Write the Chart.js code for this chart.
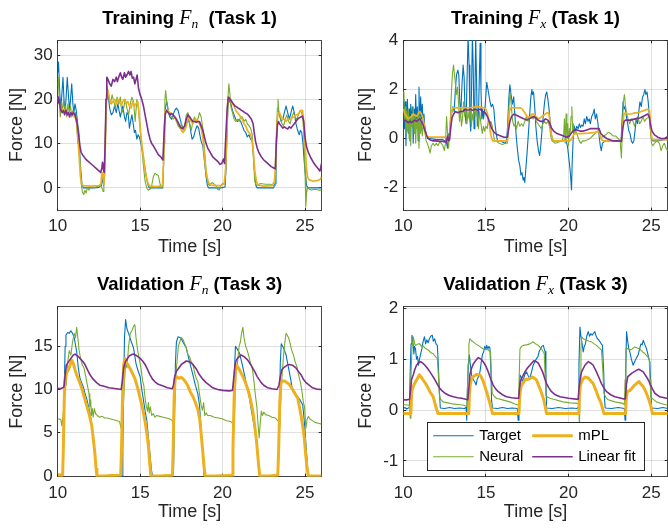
<!DOCTYPE html>
<html>
<head>
<meta charset="utf-8">
<script src="https://cdn.jsdelivr.net/npm/chart.js@4.4.1/dist/chart.umd.min.js"></script>
<style>
  html, body { margin: 0; padding: 0; background: #fff; }
  body { width: 668px; height: 529px; position: relative; overflow: hidden; font-family: "Liberation Sans", Arial, sans-serif; }
  .panel { position: absolute; }
  .panel canvas { position: absolute; left: 0; top: 0; }
  .title { position: absolute; top: 7px; font-weight: bold; font-size: 18.5px; line-height: 20px; text-align: center; color: #000; white-space: nowrap; }
  .title i { font-family: "Liberation Serif", "DejaVu Serif", serif; font-weight: normal; font-size: 20px; }
  .title sub { font-size: 13.5px; line-height: 0; vertical-align: -4px; }
</style>
</head>
<body>
<div class="panel" id="p1"><canvas id="c1" width="334" height="266"></canvas><div class="title">Training <i>F<sub>n</sub></i>&nbsp; (Task 1)</div></div>
<div class="panel" id="p2"><canvas id="c2" width="334" height="266"></canvas><div class="title">Training <i>F<sub>x</sub></i> (Task 1)</div></div>
<div class="panel" id="p3"><canvas id="c3" width="334" height="263"></canvas><div class="title">Validation <i>F<sub>n</sub></i> (Task 3)</div></div>
<div class="panel" id="p4"><canvas id="c4" width="334" height="263"></canvas><div class="title">Validation <i>F<sub>x</sub></i> (Task 3)</div></div>
<script>
// ---- tick labels ----
const timeTicks = [10, 15, 20, 25];
const trainFnTicks = [0, 10, 20, 30];
const trainFxTicks = [-2, 0, 2, 4];
const valFnTicks = [0, 5, 10, 15];
const valFxTicks = [-1, 0, 1, 2];
const legendLabels = ['Target', 'mPL', 'Neural', 'Linear fit'];

// ---- Training Fn (Task 1): [time s, force N] ----
const trainFnTarget = [[10.0,26],[10.05,28.4],[10.12,22],[10.18,17.5],[10.25,21],[10.32,25],[10.38,20],[10.45,17],[10.52,21],[10.58,25],[10.65,21],[10.72,17.5],[10.78,20],[10.85,23.5],[10.92,19],[10.98,17],[11.05,19],[11.12,17.5],[11.2,15],[11.27,12],[11.33,8],[11.4,4],[11.47,1],[11.55,0],[11.8,0],[12.2,0],[12.5,0.1],[12.65,0.5],[12.72,2.5],[12.78,0.5],[12.85,3],[12.9,12],[12.95,19],[13.0,21.5],[13.08,20.5],[13.15,18],[13.25,16.5],[13.35,17],[13.45,18.5],[13.55,17],[13.65,19],[13.72,17.5],[13.8,16],[13.88,17.5],[13.95,18.5],[14.05,16],[14.12,15],[14.2,17],[14.28,16.5],[14.35,13.5],[14.42,15],[14.5,16.5],[14.58,14.5],[14.65,12.5],[14.72,13],[14.8,11],[14.88,12],[14.95,11.5],[15.05,10],[15.15,8],[15.25,5.5],[15.35,3],[15.45,1],[15.55,0],[15.8,0],[16.1,0],[16.35,0],[16.42,5],[16.48,15],[16.55,18.5],[16.62,19.5],[16.7,17.5],[16.8,16],[16.9,15.5],[17.0,16.5],[17.1,17.5],[17.2,18],[17.3,17.5],[17.4,16],[17.5,14.5],[17.6,13.5],[17.7,13],[17.8,14.5],[17.9,15.5],[18.0,14.5],[18.08,12.5],[18.15,11],[18.25,11.5],[18.35,13],[18.45,14],[18.55,13.5],[18.62,12],[18.7,10.5],[18.8,9.5],[18.9,6],[19.0,2.5],[19.08,0.5],[19.15,0],[19.5,0],[19.9,0],[20.15,0.2],[20.22,5],[20.28,14],[20.33,18.5],[20.4,20],[20.5,19],[20.6,17.5],[20.7,16.5],[20.8,15.5],[20.9,15],[21.0,15.5],[21.1,15],[21.2,14],[21.3,13],[21.4,12.5],[21.5,11.5],[21.6,12],[21.7,11],[21.8,10.5],[21.88,7],[21.95,3],[22.02,0.5],[22.1,0],[22.6,0],[23.1,0],[23.18,1],[23.24,8],[23.3,15],[23.38,17.5],[23.45,16.5],[23.55,15],[23.65,15.5],[23.75,17],[23.85,18.5],[23.95,17],[24.05,15.5],[24.15,17],[24.25,18.5],[24.35,17],[24.45,14.5],[24.55,13],[24.65,12],[24.72,13],[24.8,12.5],[24.88,10],[24.95,6],[25.02,3],[25.1,0.5],[25.18,0],[25.6,0],[26,0]];
const trainFnNeural = [[10.0,23],[10.04,25],[10.1,19],[10.16,16],[10.22,19.5],[10.28,17],[10.35,20],[10.42,17.5],[10.48,18.5],[10.55,16],[10.62,19],[10.7,17],[10.78,18.5],[10.85,16],[10.92,17.5],[11.0,16],[11.08,17],[11.15,14],[11.22,10],[11.28,13],[11.35,6],[11.42,1],[11.5,-1],[11.58,-1.5],[11.65,-0.5],[11.72,-1.2],[11.8,0],[11.9,-0.5],[12.0,0.3],[12.2,0],[12.4,0.3],[12.6,0.5],[12.68,0],[12.75,-0.8],[12.8,1],[12.86,8],[12.92,18],[12.98,23],[13.05,22],[13.12,20],[13.2,19],[13.3,21],[13.4,19.5],[13.5,18],[13.6,20.5],[13.7,19],[13.8,20.5],[13.9,17],[14.0,18],[14.1,20],[14.2,18],[14.3,16.5],[14.4,19],[14.5,20.5],[14.6,19.5],[14.7,15],[14.8,20],[14.9,18],[15.0,13],[15.1,9],[15.2,5],[15.3,1.5],[15.4,0],[15.5,-0.5],[15.6,-0.3],[15.7,0.5],[15.8,2.5],[15.9,3.3],[16.0,3],[16.1,2.8],[16.2,1],[16.3,0],[16.38,0],[16.45,10],[16.5,20],[16.55,22],[16.62,19],[16.7,17.5],[16.8,16.5],[16.9,16],[17.0,15.5],[17.1,16],[17.2,15],[17.3,14],[17.4,13.5],[17.5,14.5],[17.6,13],[17.7,14],[17.8,16.5],[17.9,17],[18.0,14.5],[18.1,13],[18.2,15],[18.3,16],[18.4,15],[18.5,15.5],[18.6,17],[18.7,16],[18.8,13.5],[18.9,9],[19.0,4],[19.1,1],[19.2,0.5],[19.3,1],[19.4,1.2],[19.5,0.8],[19.6,0.5],[19.7,-0.3],[19.8,-0.5],[19.9,0.5],[20.0,1],[20.1,0.8],[20.18,3],[20.25,12],[20.32,20],[20.38,23.5],[20.45,21],[20.52,18],[20.6,17],[20.7,15.5],[20.8,15],[20.9,15.5],[21.0,15],[21.1,16],[21.2,16],[21.3,15],[21.4,15.5],[21.5,14.5],[21.6,14],[21.7,13.5],[21.8,12],[21.88,6],[21.95,1.5],[22.05,0.5],[22.3,1],[22.6,0.8],[22.9,0.8],[23.1,0.5],[23.2,0.5],[23.26,8],[23.32,18],[23.36,20],[23.42,17],[23.5,16],[23.6,14.5],[23.7,14],[23.8,15.5],[23.9,16.5],[24.0,15],[24.1,14.5],[24.2,16],[24.3,17],[24.4,16],[24.5,15.5],[24.6,16.5],[24.7,17.5],[24.8,17],[24.88,15],[24.95,10],[25.0,4],[25.05,-4.2],[25.1,-1],[25.15,0],[25.25,-0.3],[25.4,-0.5],[25.6,-0.3],[25.8,-0.5],[26,-0.5]];
const trainFnMpl = [[10.0,20.5],[10.1,19],[10.2,18],[10.35,17.5],[10.5,17.5],[10.65,17],[10.8,17],[10.95,16.5],[11.05,16],[11.15,15],[11.22,12],[11.3,7],[11.38,2.5],[11.45,1],[11.55,0.5],[12.0,0.4],[12.5,0.5],[12.62,0.8],[12.68,3.5],[12.74,3],[12.8,0.8],[12.86,5],[12.92,15],[12.98,21.5],[13.05,22],[13.15,20],[13.25,19],[13.35,19.5],[13.45,20],[13.55,19],[13.65,20],[13.75,19.5],[13.85,18.5],[13.95,19.5],[14.05,20],[14.15,19],[14.25,19.5],[14.35,18.5],[14.45,18],[14.55,19.5],[14.65,18.5],[14.75,19],[14.85,19.5],[14.93,17],[15.0,14],[15.1,10],[15.2,7],[15.3,4],[15.4,2],[15.5,0.8],[15.6,0.4],[16.0,0.3],[16.35,0.5],[16.42,6],[16.48,15],[16.55,17.5],[16.65,17.5],[16.8,17],[16.95,16.5],[17.1,16],[17.25,15],[17.4,14],[17.5,13],[17.6,12.5],[17.7,13],[17.8,14],[17.9,15.5],[18.0,16],[18.1,15],[18.2,14.5],[18.3,15.5],[18.4,15.5],[18.5,15],[18.6,14.5],[18.7,13.5],[18.8,11.5],[18.88,8],[18.95,5],[19.05,2.5],[19.15,1.2],[19.3,0.6],[19.6,0.5],[19.9,0.5],[20.1,1],[20.18,4],[20.25,12],[20.32,19],[20.4,20.5],[20.5,20],[20.6,19],[20.7,18.5],[20.8,17.5],[20.9,17],[21.0,16.5],[21.1,16],[21.2,15.5],[21.3,14.5],[21.4,14],[21.5,13],[21.6,12.5],[21.7,12],[21.8,10.5],[21.88,7.5],[21.95,4],[22.05,1.5],[22.15,0.6],[22.5,0.4],[23.0,0.5],[23.15,1.5],[23.22,6],[23.28,13],[23.35,17],[23.45,17],[23.55,16],[23.65,15.5],[23.75,15.5],[23.85,15],[23.95,15.5],[24.05,15.5],[24.15,15.5],[24.25,16],[24.35,16],[24.45,16.5],[24.55,16.5],[24.65,17],[24.75,17.5],[24.85,17.5],[24.92,15],[25.0,10],[25.08,5],[25.15,2.5],[25.25,1.8],[25.5,1.5],[25.8,1.7],[25.95,2],[26,2.5]];
const trainFnLinear = [[10.0,19],[10.05,20.5],[10.12,19],[10.2,17.5],[10.28,17],[10.35,17.5],[10.42,16.5],[10.5,17.5],[10.58,16.5],[10.65,17],[10.72,16],[10.8,17],[10.88,16.5],[10.95,17],[11.05,16.5],[11.12,15.5],[11.2,14],[11.27,12],[11.35,9.5],[11.42,8],[11.5,7.5],[11.6,7],[11.7,6.5],[11.85,6],[12.0,5.5],[12.15,5],[12.3,4.5],[12.45,4],[12.6,3.5],[12.68,4.5],[12.72,5.8],[12.78,4],[12.82,3.5],[12.88,10],[12.93,20],[12.98,25],[13.05,24.5],[13.15,23.5],[13.25,23],[13.35,24.5],[13.45,24],[13.55,25],[13.62,24],[13.7,25],[13.8,26],[13.88,25],[13.95,24.5],[14.05,26],[14.12,25],[14.2,25.5],[14.3,26.3],[14.38,25.5],[14.45,26.3],[14.52,24.8],[14.6,25],[14.68,23.5],[14.75,24.5],[14.82,25.5],[14.9,22.5],[15.0,21],[15.1,20],[15.2,18.5],[15.3,16.5],[15.4,14.5],[15.5,12.5],[15.6,11],[15.7,10],[15.8,9.5],[15.95,8.5],[16.1,7.5],[16.25,7],[16.38,6.3],[16.45,12],[16.52,16.5],[16.6,17.5],[16.7,17],[16.8,16.5],[16.9,16.8],[17.0,16.5],[17.1,16],[17.2,15.5],[17.3,14.8],[17.4,14],[17.5,13.5],[17.6,13.5],[17.7,14],[17.8,15.5],[17.9,16.5],[18.0,16],[18.1,15.5],[18.2,15],[18.3,15],[18.4,14.8],[18.5,15],[18.6,15],[18.7,14],[18.8,13],[18.9,11.5],[19.0,10],[19.1,9],[19.25,8],[19.4,7],[19.55,6.5],[19.7,6],[19.85,5.3],[19.95,5.5],[20.05,6.5],[20.12,5.5],[20.2,12],[20.28,18],[20.35,20.5],[20.45,20],[20.55,19.5],[20.65,19],[20.75,18.5],[20.85,18.3],[20.95,18],[21.05,17.8],[21.15,17.5],[21.25,17.3],[21.35,17],[21.45,16.8],[21.55,16.5],[21.65,16],[21.75,15.5],[21.85,14.5],[21.92,12.5],[22.0,10.5],[22.1,9],[22.2,8],[22.35,7],[22.5,6.3],[22.65,5.8],[22.8,5.3],[22.95,4.8],[23.1,4.5],[23.2,4.3],[23.26,10],[23.32,14],[23.38,15],[23.45,14.5],[23.55,14],[23.65,13.5],[23.75,13.8],[23.85,13.5],[23.95,13.3],[24.05,13.8],[24.15,13.5],[24.25,14],[24.35,14.5],[24.45,15],[24.55,15.5],[24.65,15.8],[24.75,16],[24.85,16.2],[24.92,15],[25.0,11.5],[25.08,9.5],[25.2,8],[25.35,6.8],[25.5,5.8],[25.65,5],[25.8,4.3],[25.9,3.8],[25.95,4.5],[26,5.5]];

// ---- Training Fx (Task 1) ----
const trainFxTarget = [[10.0,1.0],[10.04,1.6],[10.08,0.4],[10.12,1.5],[10.16,-0.3],[10.2,1.0],[10.25,1.6],[10.3,0.2],[10.35,1.2],[10.4,-0.1],[10.45,1.4],[10.5,0.5],[10.55,1.3],[10.6,-0.2],[10.65,1.2],[10.7,0.3],[10.75,1.8],[10.8,0.6],[10.85,1.3],[10.9,-0.1],[10.95,2.1],[11.0,0.4],[11.05,1.7],[11.1,0.8],[11.15,1.4],[11.2,0.6],[11.25,1.0],[11.3,0.5],[11.38,0.2],[11.45,0.0],[11.6,0.0],[12.0,-0.05],[12.4,-0.05],[12.55,-0.1],[12.62,-0.2],[12.68,-0.4],[12.72,0.2],[12.78,0.0],[12.85,0.4],[12.92,1.0],[13.0,1.3],[13.08,1.1],[13.15,2.0],[13.22,2.6],[13.3,2.8],[13.36,2.6],[13.42,1.5],[13.48,1.0],[13.55,2.2],[13.62,3.0],[13.68,2.5],[13.74,1.0],[13.8,0.6],[13.86,2.5],[13.92,4.2],[13.98,3.0],[14.03,0.8],[14.08,0.3],[14.13,2.0],[14.18,4.2],[14.23,3.0],[14.28,0.4],[14.33,1.5],[14.38,4.2],[14.43,2.5],[14.48,0.5],[14.55,1.0],[14.6,2.5],[14.65,3.9],[14.7,2.0],[14.75,0.8],[14.8,1.2],[14.85,0.8],[14.95,1.3],[15.05,2.3],[15.15,1.9],[15.25,1.5],[15.32,1.3],[15.4,1.4],[15.48,1.2],[15.55,0.6],[15.62,0.2],[15.7,-0.1],[15.85,-0.1],[16.0,-0.15],[16.15,-0.2],[16.25,-0.1],[16.32,0.6],[16.38,1.6],[16.45,2.2],[16.52,1.8],[16.6,1.4],[16.68,1.7],[16.75,1.0],[16.82,0.2],[16.9,-0.4],[16.98,-0.9],[17.05,-1.1],[17.12,-1.5],[17.18,-1.4],[17.25,-1.7],[17.3,-1.6],[17.35,-1.8],[17.42,-1.2],[17.5,-0.5],[17.58,0.3],[17.65,1.0],[17.72,1.7],[17.78,2.0],[17.82,1.8],[17.88,1.9],[17.95,1.3],[18.02,0.5],[18.1,-0.1],[18.18,-0.5],[18.25,-0.7],[18.32,-0.3],[18.4,0.4],[18.48,1.0],[18.55,1.5],[18.62,1.8],[18.68,1.9],[18.75,1.6],[18.82,1.2],[18.9,0.6],[18.98,0.1],[19.05,-0.1],[19.3,-0.1],[19.6,-0.1],[19.85,-0.05],[19.95,-0.4],[20.05,-1.0],[20.12,-1.5],[20.18,-2.1],[20.22,-1.0],[20.28,0.0],[20.35,0.5],[20.42,0.3],[20.5,0.5],[20.58,0.4],[20.65,0.6],[20.72,0.45],[20.8,0.55],[20.88,0.5],[20.95,0.8],[21.02,0.6],[21.1,0.9],[21.18,0.7],[21.25,0.8],[21.32,0.6],[21.4,0.9],[21.48,1.0],[21.55,1.2],[21.62,0.8],[21.7,1.0],[21.78,0.6],[21.85,0.1],[21.92,-0.3],[21.98,-0.5],[22.05,-0.2],[22.2,-0.1],[22.6,-0.1],[23.0,-0.1],[23.18,-0.1],[23.24,0.8],[23.3,1.5],[23.36,1.2],[23.42,1.3],[23.5,0.9],[23.58,0.6],[23.65,0.3],[23.72,0.2],[23.8,-0.1],[23.88,-0.2],[23.95,-0.1],[24.02,0.3],[24.1,0.8],[24.18,0.6],[24.25,1.1],[24.32,1.5],[24.4,1.3],[24.48,1.7],[24.55,1.8],[24.62,2.0],[24.68,1.8],[24.75,1.9],[24.82,1.5],[24.88,1.0],[24.95,0.4],[25.02,0.0],[25.1,-0.1],[25.4,-0.1],[25.8,-0.05],[26,-0.05]];
const trainFxNeural = [[10.0,1.9],[10.04,1.2],[10.08,0.8],[10.12,1.3],[10.16,0.2],[10.2,1.1],[10.25,0.3],[10.3,1.2],[10.35,0.0],[10.4,0.9],[10.45,-0.3],[10.5,1.0],[10.55,0.5],[10.6,1.3],[10.65,0.2],[10.7,1.0],[10.75,-0.2],[10.8,0.8],[10.85,0.4],[10.9,1.1],[10.95,-0.4],[11.0,0.9],[11.05,0.2],[11.1,0.7],[11.15,0.1],[11.22,0.6],[11.3,0.3],[11.38,-0.1],[11.45,-0.2],[11.55,-0.4],[11.62,-0.6],[11.7,-0.3],[11.8,-0.2],[11.9,-0.3],[12.0,-0.2],[12.1,-0.3],[12.2,-0.15],[12.3,-0.2],[12.4,-0.3],[12.48,-0.5],[12.55,-0.2],[12.62,0.9],[12.68,0.2],[12.74,-0.4],[12.8,0.3],[12.86,1.0],[12.92,2.0],[12.98,2.7],[13.04,3.0],[13.1,2.6],[13.16,2.2],[13.22,1.8],[13.28,2.1],[13.34,1.5],[13.4,0.7],[13.46,1.2],[13.52,0.5],[13.58,0.8],[13.65,1.5],[13.72,0.9],[13.78,1.3],[13.85,0.6],[13.92,1.1],[13.98,0.8],[14.05,1.2],[14.12,0.5],[14.18,1.0],[14.25,0.7],[14.32,1.3],[14.4,0.9],[14.48,1.2],[14.55,0.4],[14.62,1.1],[14.7,0.6],[14.78,0.2],[14.85,0.5],[14.92,0.3],[15.0,0.5],[15.08,0.4],[15.15,0.8],[15.22,0.6],[15.3,0.7],[15.38,0.5],[15.45,0.2],[15.52,-0.1],[15.6,-0.1],[15.8,-0.2],[16.0,-0.25],[16.2,-0.2],[16.3,-0.2],[16.36,0.8],[16.42,1.6],[16.48,1.8],[16.55,1.2],[16.62,0.7],[16.7,0.5],[16.78,0.6],[16.85,0.4],[16.95,0.7],[17.05,0.5],[17.15,0.6],[17.25,0.5],[17.35,0.7],[17.45,0.9],[17.55,0.7],[17.65,0.8],[17.75,1.0],[17.85,0.8],[17.95,0.9],[18.05,0.7],[18.15,0.6],[18.25,0.5],[18.35,0.4],[18.45,0.6],[18.55,0.7],[18.65,0.6],[18.75,0.7],[18.85,0.5],[18.92,0.1],[19.0,-0.1],[19.2,-0.2],[19.4,-0.15],[19.6,-0.1],[19.7,0.1],[19.75,0.8],[19.8,-0.2],[19.85,1.0],[19.9,0.0],[19.95,0.6],[20.0,-0.3],[20.05,0.4],[20.1,0.2],[20.15,0.9],[20.2,1.3],[20.25,0.3],[20.3,0.6],[20.35,0.2],[20.45,0.3],[20.55,0.1],[20.65,-0.1],[20.75,-0.2],[20.85,-0.1],[21.0,-0.1],[21.15,-0.05],[21.3,0.0],[21.45,0.1],[21.6,0.2],[21.75,0.3],[21.85,0.2],[21.95,0.0],[22.1,0.1],[22.25,0.15],[22.4,0.25],[22.55,0.2],[22.7,0.1],[22.85,0.1],[23.0,0.0],[23.12,-0.1],[23.2,-0.8],[23.26,0.5],[23.32,1.5],[23.38,1.8],[23.45,1.3],[23.52,1.0],[23.6,0.8],[23.7,0.6],[23.8,0.8],[23.9,0.7],[24.0,0.5],[24.1,0.8],[24.2,0.9],[24.3,0.6],[24.4,0.7],[24.5,0.9],[24.6,0.7],[24.7,0.8],[24.8,0.85],[24.9,0.9],[24.96,0.3],[25.02,-0.2],[25.1,-0.3],[25.2,-0.2],[25.35,-0.1],[25.5,-0.2],[25.6,-0.5],[25.7,-0.3],[25.8,-0.2],[25.9,-0.4],[26,-0.5]];
const trainFxMpl = [[10.0,1.2],[10.1,1.0],[10.2,0.9],[10.3,0.8],[10.4,0.85],[10.5,0.9],[10.6,1.0],[10.7,0.95],[10.8,0.9],[10.9,1.0],[11.0,1.1],[11.1,1.0],[11.2,0.8],[11.28,0.5],[11.35,0.2],[11.42,0.05],[11.6,0.05],[12.0,0.05],[12.5,0.05],[12.65,0.0],[12.72,-0.1],[12.8,0.1],[12.86,0.6],[12.92,1.1],[13.0,1.25],[13.5,1.25],[14.0,1.25],[14.5,1.3],[14.9,1.25],[15.0,1.2],[15.1,1.0],[15.2,0.6],[15.28,0.2],[15.35,0.0],[15.42,-0.1],[15.8,-0.1],[16.3,-0.1],[16.36,0.5],[16.42,1.1],[16.5,1.25],[16.8,1.25],[17.1,1.25],[17.2,1.2],[17.3,1.1],[17.4,1.0],[17.5,0.9],[17.6,0.85],[17.7,0.9],[17.8,1.0],[17.9,1.0],[18.0,0.9],[18.1,0.85],[18.2,0.8],[18.3,0.85],[18.4,0.9],[18.5,0.95],[18.6,1.0],[18.7,1.05],[18.8,1.05],[18.88,0.7],[18.95,0.2],[19.02,0.0],[19.1,-0.1],[19.6,-0.1],[20.1,-0.1],[20.2,0.0],[20.3,0.15],[20.4,0.2],[20.8,0.2],[21.2,0.22],[21.6,0.25],[21.85,0.3],[21.92,0.1],[22.0,-0.05],[22.1,-0.1],[22.6,-0.1],[23.2,-0.1],[23.28,0.5],[23.35,1.0],[23.45,1.05],[23.6,1.0],[23.8,1.0],[24.0,1.05],[24.2,1.05],[24.4,1.1],[24.6,1.15],[24.8,1.2],[24.9,1.15],[24.96,0.6],[25.02,0.1],[25.08,-0.05],[25.5,-0.05],[26,-0.05]];
const trainFxLinear = [[10.0,0.7],[10.1,0.75],[10.2,0.7],[10.3,0.65],[10.4,0.7],[10.5,0.65],[10.6,0.7],[10.7,0.75],[10.8,0.7],[10.9,0.75],[11.0,0.8],[11.1,0.7],[11.2,0.55],[11.3,0.35],[11.4,0.15],[11.5,0.0],[11.6,-0.05],[11.8,-0.1],[12.0,-0.1],[12.2,-0.12],[12.4,-0.12],[12.6,-0.15],[12.68,0.1],[12.74,-0.1],[12.8,-0.05],[12.88,0.5],[12.95,0.85],[13.05,1.0],[13.15,1.1],[13.3,1.05],[13.45,1.1],[13.6,1.1],[13.75,1.2],[13.9,1.15],[14.05,1.2],[14.2,1.15],[14.35,1.2],[14.5,1.15],[14.65,1.2],[14.8,1.1],[14.95,1.05],[15.05,0.95],[15.15,0.8],[15.25,0.6],[15.35,0.4],[15.5,0.25],[15.7,0.15],[15.9,0.1],[16.1,0.05],[16.3,0.05],[16.38,0.4],[16.45,0.7],[16.55,0.9],[16.7,1.0],[16.85,0.95],[17.0,0.9],[17.15,0.85],[17.3,0.8],[17.45,0.75],[17.6,0.8],[17.75,0.85],[17.9,0.9],[18.0,0.85],[18.15,0.75],[18.3,0.7],[18.45,0.7],[18.6,0.8],[18.75,0.75],[18.85,0.65],[18.95,0.45],[19.1,0.3],[19.3,0.2],[19.5,0.15],[19.7,0.1],[19.9,0.05],[20.05,0.1],[20.2,0.25],[20.35,0.35],[20.5,0.35],[20.7,0.3],[20.9,0.3],[21.1,0.35],[21.3,0.4],[21.5,0.4],[21.7,0.4],[21.85,0.4],[21.95,0.2],[22.1,0.1],[22.3,0.0],[22.5,-0.05],[22.7,-0.1],[22.9,-0.1],[23.1,-0.1],[23.2,-0.12],[23.28,0.4],[23.36,0.7],[23.45,0.75],[23.6,0.75],[23.75,0.75],[23.9,0.78],[24.05,0.8],[24.2,0.82],[24.35,0.85],[24.5,0.9],[24.65,0.95],[24.8,1.0],[24.88,0.9],[24.96,0.55],[25.05,0.3],[25.2,0.15],[25.4,0.05],[25.6,0.0],[25.8,0.0],[25.95,0.05],[26,0.1]];

// ---- Validation Fn (Task 3) ----
const valFnTarget = [[10.0,0.2],[10.3,0.2],[10.35,3],[10.4,10],[10.45,15],[10.5,16.3],[10.6,16.6],[10.7,16.5],[10.8,16.8],[10.9,16.5],[11.0,16],[11.15,14.4],[11.25,12.5],[11.35,11.3],[11.45,10.8],[11.55,10.3],[11.65,9.6],[11.75,9],[11.85,8.2],[11.96,7.3],[12.06,6],[12.16,4.4],[12.26,2.8],[12.32,1],[12.38,0],[12.8,0],[13.4,0],[13.9,0],[13.95,3],[14.0,10],[14.05,16],[14.12,18.1],[14.2,17],[14.3,16.5],[14.45,15.6],[14.6,14.8],[14.75,13],[14.9,12],[15.0,11.5],[15.1,10],[15.2,8.8],[15.3,7.5],[15.4,6.5],[15.5,4.5],[15.6,2.5],[15.68,0.8],[15.75,0],[16.2,0],[16.8,0],[17.02,0.2],[17.08,6],[17.14,13],[17.2,15.5],[17.3,16.1],[17.45,16],[17.6,15.5],[17.8,14.8],[18.0,13.2],[18.2,11.7],[18.35,10.5],[18.5,9.5],[18.6,8.2],[18.7,5.5],[18.8,2.5],[18.88,0],[19.5,0],[20.2,0],[20.6,0.1],[20.66,6],[20.72,12],[20.78,15],[20.88,14.7],[21.03,14.2],[21.18,13],[21.33,11.7],[21.48,10.3],[21.63,9],[21.73,7.8],[21.83,6.7],[21.93,5.6],[22.03,4.4],[22.13,2.2],[22.24,0],[22.8,0],[23.38,0.1],[23.44,6],[23.5,13],[23.56,15.3],[23.7,14.8],[23.85,14],[24.0,12.5],[24.15,11],[24.25,9.8],[24.4,9.5],[24.55,9.2],[24.7,8.8],[24.86,8.2],[24.95,6.5],[25.06,3.6],[25.15,1.2],[25.2,0],[25.6,0],[26,0]];
const valFnNeural = [[10.0,6.6],[10.1,6.6],[10.2,6.5],[10.25,5.8],[10.3,6.5],[10.38,8],[10.45,11],[10.52,10.5],[10.6,13],[10.7,14.5],[10.8,14],[10.9,15.5],[11.0,16.5],[11.08,16],[11.15,17.2],[11.22,16],[11.3,14.5],[11.4,13.5],[11.5,12.8],[11.6,12.5],[11.7,11.5],[11.8,10.5],[11.9,9.5],[11.95,8],[12.0,8.8],[12.05,7],[12.1,7.8],[12.15,6.8],[12.22,7.8],[12.3,7.2],[12.4,7],[12.55,6.8],[12.7,6.9],[12.85,6.7],[13.0,6.7],[13.2,6.6],[13.4,6.5],[13.6,6.4],[13.75,6.3],[13.85,5.5],[13.92,9],[13.98,8],[14.05,11],[14.12,13],[14.2,12.5],[14.3,15],[14.4,16.5],[14.5,16.8],[14.6,17.3],[14.68,17.5],[14.75,16],[14.85,14.5],[14.95,13.5],[15.05,12.5],[15.15,11],[15.22,10.5],[15.3,9],[15.38,8],[15.45,7.5],[15.5,8.5],[15.55,7.3],[15.62,8],[15.7,7],[15.8,7.2],[15.9,6.8],[16.0,7],[16.2,6.9],[16.4,6.8],[16.6,6.7],[16.8,6.6],[16.95,6.4],[17.05,5.8],[17.1,9],[17.18,12],[17.25,13.5],[17.32,15],[17.4,15.5],[17.5,16],[17.6,15.8],[17.7,15.3],[17.8,14.8],[17.9,14],[18.0,13.8],[18.1,13.2],[18.2,12.9],[18.3,12],[18.4,11.3],[18.5,10.9],[18.6,9.5],[18.7,8.2],[18.78,7.6],[18.85,8.5],[18.92,7],[19.0,7.3],[19.1,7],[19.25,7],[19.5,6.8],[19.75,6.7],[20.0,6.6],[20.25,6.4],[20.5,6.3],[20.65,6.0],[20.7,5.5],[20.76,9.5],[20.82,12],[20.9,13],[21.0,15],[21.08,15.5],[21.15,16.5],[21.23,17.2],[21.3,16],[21.4,15],[21.5,14.5],[21.6,13.8],[21.7,13],[21.8,12.5],[21.9,11],[22.0,9.2],[22.08,8],[22.15,6],[22.22,4.4],[22.28,6],[22.35,7.5],[22.42,7],[22.5,7.4],[22.6,7.1],[22.8,7],[23.0,6.8],[23.2,6.7],[23.4,6.3],[23.48,5.6],[23.55,10],[23.62,12],[23.7,14],[23.78,15.5],[23.85,16.5],[23.92,16.3],[24.0,16],[24.1,15.3],[24.2,14.5],[24.3,14],[24.4,13.2],[24.5,12.7],[24.6,11.8],[24.7,11],[24.8,10],[24.9,8.5],[24.97,8],[25.05,5.5],[25.12,6.5],[25.2,6.9],[25.3,6.6],[25.45,6.4],[25.6,6.2],[25.8,6.1],[26,6.0]];
const valFnMpl = [[10.0,0.1],[10.3,0.1],[10.34,3],[10.4,9],[10.46,11.5],[10.55,12],[10.65,12.3],[10.75,12.8],[10.85,13.4],[10.95,13],[11.05,12.3],[11.15,11.7],[11.3,11],[11.45,10.2],[11.6,9.2],[11.75,8.2],[11.9,7.2],[12.06,5.9],[12.16,4.3],[12.26,2.5],[12.33,0.8],[12.38,0],[12.8,0],[13.3,0.05],[13.82,0.1],[13.87,3],[13.93,9],[14.0,12.8],[14.07,13.6],[14.15,13.2],[14.25,12.9],[14.37,12.5],[14.5,12],[14.68,11.3],[14.85,10.2],[15.0,9],[15.15,7.8],[15.3,6.3],[15.42,4.8],[15.5,3.5],[15.58,1.5],[15.65,0],[16.2,0],[16.96,0.1],[17.0,3],[17.06,9],[17.12,11.3],[17.2,11.5],[17.35,11.3],[17.5,11.4],[17.62,11.2],[17.75,10.9],[17.9,10.4],[18.05,9.7],[18.2,9.2],[18.35,8.5],[18.5,7.7],[18.62,6.5],[18.72,4.5],[18.8,2.8],[18.88,1],[18.95,0],[19.6,0],[20.2,0.05],[20.58,0.1],[20.63,3],[20.7,9],[20.77,12],[20.85,12.8],[20.95,12.5],[21.05,12.2],[21.2,11.6],[21.35,11],[21.5,10.2],[21.63,9.4],[21.75,8.3],[21.85,7.3],[21.95,5.8],[22.05,4.2],[22.13,2.5],[22.2,1],[22.26,0],[22.8,0],[23.35,0.1],[23.4,3],[23.47,8.5],[23.53,10.6],[23.6,11],[23.75,11],[23.9,10.8],[24.05,10.6],[24.25,10],[24.4,9.5],[24.56,9],[24.66,8],[24.76,7],[24.86,5.8],[24.96,4.3],[25.04,2.5],[25.12,1],[25.2,0],[25.6,0],[26,0]];
const valFnLinear = [[10.0,10.1],[10.2,10.1],[10.38,10.3],[10.44,11.5],[10.52,12.8],[10.65,13.2],[10.8,13.6],[10.95,14],[11.05,14.1],[11.2,13.9],[11.35,13.6],[11.5,13.3],[11.65,12.9],[11.8,12.3],[11.96,11.7],[12.15,11.2],[12.36,10.8],[12.55,10.5],[12.76,10.4],[13.1,10.2],[13.57,10.1],[13.85,10.0],[13.92,11],[14.0,12.5],[14.1,13.2],[14.2,13.5],[14.35,13.9],[14.58,14.1],[14.8,13.9],[15.0,13.6],[15.15,13.3],[15.3,12.9],[15.45,12.3],[15.6,11.7],[15.75,11.2],[15.9,10.9],[16.1,10.6],[16.4,10.4],[16.65,10.2],[16.95,10.1],[17.02,10.5],[17.1,11.5],[17.2,12.1],[17.35,12.5],[17.5,12.9],[17.65,13.1],[17.8,13.3],[18.0,13.2],[18.2,12.9],[18.4,12.4],[18.6,11.7],[18.8,11.2],[19.0,10.8],[19.2,10.5],[19.4,10.2],[19.7,10.0],[20.0,9.9],[20.4,9.85],[20.6,9.9],[20.66,11],[20.75,12.8],[20.83,13.4],[20.95,13.7],[21.13,14],[21.3,13.8],[21.53,13.4],[21.7,12.9],[21.94,12.1],[22.1,11.5],[22.34,10.8],[22.5,10.5],[22.74,10.2],[23.0,10.1],[23.3,10.0],[23.42,10.5],[23.5,11.5],[23.6,12.3],[23.75,12.6],[23.9,12.8],[24.05,12.9],[24.25,12.8],[24.45,12.5],[24.6,12.1],[24.76,11.7],[24.9,11.2],[25.06,10.8],[25.25,10.5],[25.46,10.2],[25.7,10.05],[26,10.0]];

// ---- Validation Fx (Task 3) ----
const valFxTarget = [[10.0,0.03],[10.1,0.05],[10.2,0.02],[10.3,0.04],[10.37,0.05],[10.42,0.8],[10.47,1.3],[10.52,1.47],[10.58,1.35],[10.64,1.1],[10.68,1.25],[10.74,1.2],[10.8,1.0],[10.86,1.05],[10.92,0.88],[10.98,1.0],[11.05,1.1],[11.12,1.2],[11.2,1.35],[11.28,1.44],[11.35,1.3],[11.42,1.38],[11.5,1.32],[11.58,1.4],[11.66,1.45],[11.75,1.47],[11.82,1.35],[11.9,1.4],[11.98,1.3],[12.06,1.27],[12.12,0.9],[12.18,0.4],[12.24,0.04],[12.5,0.03],[12.8,0.05],[13.1,0.03],[13.4,0.04],[13.7,0.03],[13.8,0.05],[13.84,-0.2],[13.88,0.4],[13.94,0.9],[14.0,1.08],[14.07,0.85],[14.13,0.69],[14.2,0.62],[14.27,0.58],[14.33,0.55],[14.4,0.49],[14.47,0.6],[14.55,0.66],[14.64,0.75],[14.72,0.95],[14.8,1.1],[14.86,1.14],[14.93,1.25],[15.0,1.2],[15.05,1.27],[15.12,1.2],[15.18,1.25],[15.24,1.22],[15.3,0.8],[15.34,0.2],[15.4,0.04],[15.7,0.03],[16.0,0.05],[16.3,0.03],[16.6,0.04],[16.9,0.03],[16.95,-0.2],[17.0,0.2],[17.06,0.69],[17.13,0.65],[17.2,0.56],[17.28,0.62],[17.36,0.7],[17.46,0.75],[17.55,0.68],[17.66,0.62],[17.76,0.75],[17.86,0.88],[17.96,0.95],[18.06,1.01],[18.15,1.05],[18.22,1.15],[18.3,1.2],[18.38,1.25],[18.47,1.27],[18.53,1.2],[18.58,1.15],[18.63,0.6],[18.67,0.04],[19.0,0.03],[19.4,0.05],[19.8,0.03],[20.2,0.04],[20.5,0.03],[20.58,0.05],[20.63,0.9],[20.69,1.63],[20.75,1.45],[20.82,1.3],[20.89,1.14],[20.95,1.25],[21.02,1.3],[21.1,1.45],[21.19,1.54],[21.27,1.45],[21.35,1.5],[21.43,1.47],[21.5,1.5],[21.59,1.54],[21.67,1.45],[21.75,1.4],[21.82,1.38],[21.9,1.34],[21.98,1.3],[22.05,1.27],[22.12,0.8],[22.18,0.2],[22.22,0.04],[22.6,0.03],[23.0,0.05],[23.38,0.03],[23.42,-0.2],[23.46,0.8],[23.51,1.54],[23.58,1.35],[23.65,1.2],[23.71,1.14],[23.8,1.0],[23.91,0.88],[24.0,0.95],[24.1,1.02],[24.21,1.08],[24.3,1.2],[24.38,1.3],[24.45,1.28],[24.52,1.37],[24.6,1.3],[24.66,1.25],[24.72,1.2],[24.8,1.1],[24.86,1.0],[24.92,0.95],[24.97,0.5],[25.02,0.04],[25.4,0.03],[25.7,0.05],[26,0.03]];
const valFxNeural = [[10.0,0.11],[10.2,0.1],[10.38,0.09],[10.42,-0.16],[10.46,0.6],[10.52,1.2],[10.6,1.44],[10.66,1.35],[10.72,1.27],[10.8,1.28],[10.9,1.3],[11.0,1.3],[11.1,1.25],[11.2,1.26],[11.3,1.22],[11.4,1.2],[11.5,1.18],[11.6,1.15],[11.7,1.12],[11.8,1.11],[11.92,1.06],[12.06,1.01],[12.12,0.7],[12.18,0.3],[12.25,0.22],[12.4,0.16],[12.7,0.14],[13.0,0.12],[13.3,0.11],[13.6,0.1],[13.85,0.07],[13.92,0.9],[13.97,1.3],[14.03,1.4],[14.13,1.36],[14.23,1.34],[14.38,1.3],[14.54,1.27],[14.7,1.23],[14.84,1.2],[15.0,1.19],[15.14,1.18],[15.28,1.14],[15.33,0.7],[15.38,0.33],[15.5,0.27],[15.65,0.23],[16.0,0.2],[16.45,0.16],[16.75,0.12],[16.96,0.1],[17.0,0.5],[17.06,1.2],[17.15,1.25],[17.26,1.27],[17.45,1.28],[17.66,1.3],[17.86,1.34],[18.0,1.3],[18.17,1.27],[18.37,1.2],[18.53,1.11],[18.58,0.7],[18.63,0.29],[18.75,0.25],[18.87,0.23],[19.2,0.2],[19.68,0.16],[20.1,0.14],[20.55,0.13],[20.62,0.1],[20.66,-0.36],[20.7,0.6],[20.75,1.2],[20.79,1.44],[20.9,1.4],[21.08,1.37],[21.25,1.35],[21.39,1.34],[21.55,1.3],[21.69,1.27],[21.85,1.22],[21.99,1.18],[22.07,0.8],[22.14,0.33],[22.25,0.25],[22.4,0.2],[22.8,0.16],[23.3,0.13],[23.38,0.1],[23.42,0.6],[23.47,1.2],[23.55,1.21],[23.71,1.18],[23.85,1.2],[24.01,1.24],[24.15,1.22],[24.31,1.2],[24.45,1.15],[24.62,1.11],[24.75,1.06],[24.88,1.01],[24.93,0.6],[24.98,0.26],[25.1,0.22],[25.32,0.16],[25.6,0.13],[25.93,0.1],[26,0.1]];
const valFxMpl = [[10.0,-0.07],[10.46,-0.07],[10.5,0.3],[10.55,0.42],[10.65,0.5],[10.8,0.59],[10.97,0.69],[11.1,0.64],[11.2,0.59],[11.41,0.49],[11.61,0.36],[11.81,0.26],[11.9,0.15],[12.0,0.03],[12.1,-0.07],[13.0,-0.07],[13.96,-0.07],[14.0,0.3],[14.05,0.5],[14.13,0.62],[14.25,0.66],[14.43,0.7],[14.64,0.69],[14.75,0.63],[14.84,0.56],[14.95,0.45],[15.04,0.36],[15.14,0.25],[15.24,0.13],[15.32,0.03],[15.4,-0.07],[16.2,-0.07],[17.0,-0.07],[17.04,0.25],[17.1,0.42],[17.16,0.49],[17.36,0.59],[17.66,0.62],[17.82,0.65],[17.95,0.62],[18.06,0.59],[18.17,0.5],[18.27,0.42],[18.38,0.32],[18.5,0.2],[18.58,0.08],[18.67,-0.07],[19.5,-0.07],[20.62,-0.07],[20.66,0.3],[20.72,0.49],[20.85,0.6],[20.99,0.65],[21.19,0.63],[21.35,0.57],[21.49,0.52],[21.6,0.43],[21.69,0.36],[21.8,0.26],[21.94,0.16],[22.05,0.04],[22.14,-0.07],[22.8,-0.07],[23.45,-0.07],[23.5,0.25],[23.56,0.36],[23.7,0.38],[23.81,0.42],[24.0,0.49],[24.11,0.52],[24.27,0.56],[24.4,0.5],[24.52,0.46],[24.65,0.38],[24.76,0.29],[24.86,0.2],[24.96,0.1],[25.08,-0.07],[26,-0.07]];
const valFxLinear = [[10.0,0.2],[10.2,0.2],[10.38,0.21],[10.44,0.4],[10.5,0.6],[10.6,0.69],[10.7,0.8],[10.8,0.88],[10.92,0.93],[11.05,0.95],[11.18,0.92],[11.31,0.88],[11.46,0.82],[11.61,0.75],[11.77,0.67],[11.92,0.59],[12.07,0.5],[12.22,0.42],[12.37,0.37],[12.52,0.33],[12.75,0.29],[13.02,0.26],[13.3,0.24],[13.53,0.23],[13.9,0.2],[13.96,0.4],[14.03,0.7],[14.13,0.82],[14.23,0.9],[14.33,0.95],[14.45,1.0],[14.54,1.03],[14.7,1.0],[14.84,0.95],[15.0,0.86],[15.14,0.75],[15.3,0.6],[15.44,0.49],[15.6,0.41],[15.75,0.36],[16.0,0.3],[16.25,0.26],[16.55,0.24],[16.85,0.23],[16.98,0.23],[17.04,0.45],[17.1,0.58],[17.16,0.62],[17.36,0.75],[17.5,0.82],[17.66,0.88],[17.9,0.97],[18.05,0.95],[18.17,0.92],[18.3,0.84],[18.43,0.75],[18.55,0.63],[18.67,0.52],[18.8,0.44],[18.97,0.36],[19.2,0.3],[19.48,0.26],[20.0,0.23],[20.58,0.21],[20.64,0.45],[20.72,0.65],[20.79,0.75],[20.99,0.88],[21.19,0.95],[21.35,0.92],[21.49,0.88],[21.69,0.75],[21.85,0.63],[21.99,0.52],[22.15,0.43],[22.3,0.36],[22.55,0.3],[22.8,0.26],[23.3,0.22],[23.44,0.22],[23.5,0.5],[23.58,0.65],[23.81,0.72],[24.11,0.78],[24.25,0.8],[24.52,0.75],[24.72,0.65],[24.86,0.57],[24.96,0.49],[25.1,0.4],[25.22,0.33],[25.52,0.26],[25.93,0.23],[26,0.23]];

// ---- styles ----
const COLORS = { 'Target': '#0072BD', 'Neural': '#77AC30', 'mPL': '#EDB120', 'Linear fit': '#7E2F8E' };
const AXIS_COLOR = '#262626';
const GRID_COLOR = 'rgba(38,38,38,0.15)';
const FONT = '"Liberation Sans", Arial, Helvetica, sans-serif';

// later in this list = drawn on top
function seriesSet(target, neural, mpl, linear, mplWidth) {
  return [
    { label: 'Target', data: target, width: 1.1 },
    { label: 'Neural', data: neural, width: 1.1 },
    { label: 'mPL', data: mpl, width: mplWidth },
    { label: 'Linear fit', data: linear, width: 1.6 },
  ];
}

const panels = [
  { id: 'c1', wrap: 'p1', left: 0, top: 0, box: { l: 57.7, t: 40, r: 321.5, b: 210 },
    yMin: -5, yMax: 33.4, yTicks: trainFnTicks, yTitleX: 17.5, xTitleY: 246.7,
    series: seriesSet(trainFnTarget, trainFnNeural, trainFnMpl, trainFnLinear, 1.7) },
  { id: 'c2', wrap: 'p2', left: 334, top: 0, box: { l: 69.3, t: 40, r: 333.7, b: 210 },
    yMin: -2.93, yMax: 4.03, yTicks: trainFxTicks, yTitleX: 32.3, xTitleY: 246.7,
    series: seriesSet(trainFxTarget, trainFxNeural, trainFxMpl, trainFxLinear, 1.7) },
  { id: 'c3', wrap: 'p3', left: 0, top: 266, box: { l: 57.7, t: 40.7, r: 321.5, b: 210.7 },
    yMin: -0.08, yMax: 19.58, yTicks: valFnTicks, yTitleX: 17.5, xTitleY: 246,
    series: seriesSet(valFnTarget, valFnNeural, valFnMpl, valFnLinear, 3) },
  { id: 'c4', wrap: 'p4', left: 334, top: 266, box: { l: 69.3, t: 40.7, r: 333.7, b: 210.7 },
    yMin: -1.31, yMax: 2.03, yTicks: valFxTicks, yTitleX: 32.3, xTitleY: 246, legend: true,
    series: seriesSet(valFxTarget, valFxNeural, valFxMpl, valFxLinear, 3) },
];

// box around the axes with inward tick marks (MATLAB style)
const axesBox = {
  id: 'axesBox',
  beforeDatasetsDraw(chart) {
    const { ctx, chartArea: a, scales: { x, y } } = chart;
    const L = Math.floor(a.left) + 0.5, R = Math.floor(a.right) + 0.5;
    const T = Math.floor(a.top) + 0.5, B = Math.floor(a.bottom) + 0.5;
    const len = 2.8;
    ctx.save();
    ctx.strokeStyle = AXIS_COLOR;
    ctx.lineWidth = 1;
    ctx.beginPath();
    x.ticks.forEach(t => {
      const px = Math.floor(x.getPixelForValue(t.value)) + 0.5;
      ctx.moveTo(px, B); ctx.lineTo(px, B - len);
      ctx.moveTo(px, T); ctx.lineTo(px, T + len);
    });
    y.ticks.forEach(t => {
      const py = Math.floor(y.getPixelForValue(t.value)) + 0.5;
      ctx.moveTo(L, py); ctx.lineTo(L + len, py);
      ctx.moveTo(R, py); ctx.lineTo(R - len, py);
    });
    ctx.stroke();
    ctx.globalAlpha = 0.85;
    ctx.strokeRect(L, T, R - L, B - T);
    ctx.restore();
  }
};

// two-column legend placed at the bottom of the axes
const legendBox = {
  id: 'legendBox',
  afterDraw(chart, args, opts) {
    if (!opts.show) return;
    const { ctx, chartArea: a } = chart;
    const w = 216.6, h = 48.4;
    const x0 = (a.left + a.right) / 2 - w / 2;
    const y0 = a.bottom - 6 - h;
    ctx.save();
    ctx.fillStyle = '#fff';
    ctx.fillRect(x0, y0, w, h);
    ctx.strokeStyle = AXIS_COLOR;
    ctx.lineWidth = 1;
    ctx.strokeRect(Math.round(x0) + 0.5, Math.round(y0) + 0.5, Math.round(w), Math.round(h));
    ctx.font = '15px ' + FONT;
    ctx.textBaseline = 'middle';
    ctx.textAlign = 'left';
    const colX = [6, 105];
    const rowY = [13.4, 34.4];
    legendLabels.forEach((name, i) => {
      const ds = chart.data.datasets.find(d => d.label === name);
      const cx = x0 + colX[i % 2];
      const cy = y0 + rowY[Math.floor(i / 2)];
      ctx.strokeStyle = ds.borderColor;
      ctx.lineWidth = ds.borderWidth;
      ctx.beginPath();
      ctx.moveTo(cx, cy); ctx.lineTo(cx + 40.5, cy);
      ctx.stroke();
      ctx.fillStyle = '#000';
      ctx.fillText(name, cx + 46, cy + 0.5);
    });
    ctx.restore();
  }
};

function buildPanel(p) {
  const wrap = document.getElementById(p.wrap);
  wrap.style.left = p.left + 'px';
  wrap.style.top = p.top + 'px';
  const canvas = document.getElementById(p.id);
  const W = canvas.width, H = canvas.height;
  const title = wrap.querySelector('.title');
  title.style.left = p.box.l + 'px';
  title.style.width = (p.box.r - p.box.l) + 'px';

  const tickFont = { family: FONT, size: 17 };
  const labelFont = { family: FONT, size: 18 };

  new Chart(canvas, {
    type: 'line',
    data: {
      datasets: p.series.map((s, i) => ({
        label: s.label,
        data: s.data.map(([t, v]) => ({ x: t, y: v })),
        borderColor: COLORS[s.label],
        borderWidth: s.width,
        pointRadius: 0,
        tension: 0,
        fill: false,
        clip: 0,
        borderJoinStyle: 'round',
        order: p.series.length - i,
      })),
    },
    options: {
      responsive: false,
      animation: false,
      devicePixelRatio: 1,
      events: [],
      layout: { padding: { left: 0, top: p.box.t, right: W - p.box.r, bottom: 0 } },
      plugins: {
        legend: { display: false },
        tooltip: { enabled: false },
        legendBox: { show: !!p.legend },
      },
      scales: {
        x: {
          type: 'linear', min: 10, max: 26,
          afterBuildTicks: s => { s.ticks = timeTicks.map(v => ({ value: v })); },
          afterFit: s => { s.height = H - p.box.b; },
          ticks: { color: AXIS_COLOR, font: tickFont, padding: 6.5, maxRotation: 0 },
          grid: { color: GRID_COLOR, drawTicks: false, lineWidth: 1 },
          border: { display: false },
          title: { display: true, text: 'Time [s]', color: AXIS_COLOR, font: labelFont,
                   padding: { top: 0, bottom: H - p.xTitleY - 10.8 } },
        },
        y: {
          type: 'linear', min: p.yMin, max: p.yMax,
          afterBuildTicks: s => { s.ticks = p.yTicks.map(v => ({ value: v })); },
          afterFit: s => { s.width = p.box.l; },
          ticks: { color: AXIS_COLOR, font: tickFont, padding: 5 },
          grid: { color: GRID_COLOR, drawTicks: false, lineWidth: 1 },
          border: { display: false },
          title: { display: true, text: 'Force [N]', color: AXIS_COLOR, font: labelFont,
                   padding: { top: p.yTitleX - 10.8, bottom: 0 } },
        },
      },
    },
    plugins: [axesBox, legendBox],
  });
}

panels.forEach(buildPanel);
</script>
</body>
</html>
